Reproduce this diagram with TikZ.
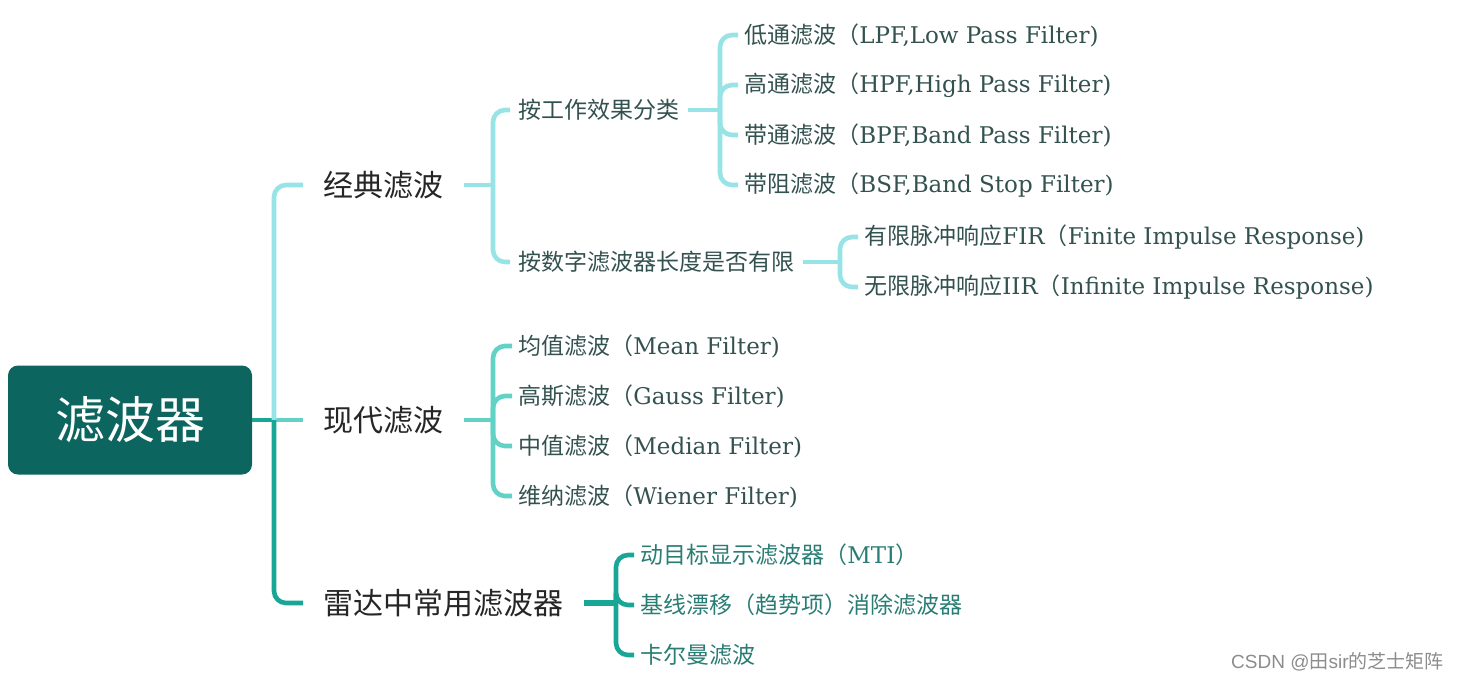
\documentclass[tikz,border=0pt]{standalone}
\usepackage{fontspec}
\setmainfont{Noto Sans CJK SC}
\newfontfamily\lat{DejaVu Serif}
\newfontfamily\wmark{Liberation Sans}
\usetikzlibrary{shapes,arrows}
\definecolor{rootfill}{HTML}{0D6560}
\definecolor{lineA}{HTML}{97E3E6}
\definecolor{lineB}{HTML}{62D2C7}
\definecolor{lineC}{HTML}{19A696}
\definecolor{leaftext}{HTML}{33524F}
\definecolor{radartext}{HTML}{2A7D74}
\tikzstyle{root} = [rectangle, fill=rootfill, text=white, rounded corners=5pt,
    minimum width=122pt, minimum height=54.5pt, font=\fontsize{25}{25}\selectfont]
\tikzstyle{topic} = [anchor=west, inner xsep=10pt, text=black!85,
    font=\fontsize{15}{15}\selectfont]
\tikzstyle{subtopic} = [anchor=west, inner xsep=4pt, text=leaftext,
    font=\fontsize{11.5}{12}\selectfont]
\tikzstyle{leaf} = [anchor=west, inner xsep=3pt, text=leaftext,
    font=\fontsize{11.5}{12}\selectfont]
\tikzstyle{branch} = [line width=2.3pt, rounded corners=6pt]

\begin{document}
\begin{tikzpicture}[x=0.5pt, y=-0.5pt]
    \useasboundingbox (0,0) rectangle (1460,680);
    % Place nodes
    % Root and topics
    \node [root] (flt) at (130,420) {滤波器};
    \node [topic] (jd) at (303,185) {经典滤波};
    \node [topic] (xd) at (303,420) {现代滤波};
    \node [topic] (ld) at (303,603) {雷达中常用滤波器};

    % Classic filters
    \node [subtopic] (gz) at (510,110) {按工作效果分类};
    \node [subtopic] (sz) at (510,262) {按数字滤波器长度是否有限};
    \node [leaf] (lpf) at (738,35) {低通滤波（\lat LPF,Low Pass Filter)};
    \node [leaf] (hpf) at (738,85) {高通滤波（\lat HPF,High Pass Filter)};
    \node [leaf] (bpf) at (738,135) {带通滤波（\lat BPF,Band Pass Filter)};
    \node [leaf] (bsf) at (738,185) {带阻滤波（\lat BSF,Band Stop Filter)};
    \node [leaf] (fir) at (858,237) {有限脉冲响应{\lat FIR}（\lat Finite Impulse Response)};
    \node [leaf] (iir) at (858,287) {无限脉冲响应{\lat IIR}（\lat Infinite Impulse Response)};

    % Modern filters
    \node [leaf] (mean) at (512,346) {均值滤波（\lat Mean Filter)};
    \node [leaf] (gauss) at (512,396) {高斯滤波（\lat Gauss Filter)};
    \node [leaf] (median) at (512,446) {中值滤波（\lat Median Filter)};
    \node [leaf] (wiener) at (512,496) {维纳滤波（\lat Wiener Filter)};

    % Radar filters
    \node [leaf, text=radartext] (mti) at (634,555) {动目标显示滤波器（{\lat MTI}）};
    \node [leaf, text=radartext] (trend) at (634,605) {基线漂移（趋势项）消除滤波器};
    \node [leaf, text=radartext] (kalman) at (634,655) {卡尔曼滤波};

    \node [anchor=east, text=black!45, inner sep=0pt, font=\fontsize{9.5}{10}\selectfont]
        (csdn) at (1444,662) {{\wmark CSDN @}田{\wmark sir}的芝士矩阵};

    % Hubs
    \coordinate (trunk) at (274,420);
    \coordinate (jdhub) at (493,185);
    \coordinate (gzhub) at (720,110);
    \coordinate (szhub) at (840,262);
    \coordinate (xdhub) at (493,420);
    \coordinate (ldhub) at (616,603);

    % Draw edges
    % Trunk
    \draw[branch, lineC] (flt.east) -- (trunk);
    \draw[branch, lineB] (trunk) -- (xd.west);
    \draw[branch, lineA] (trunk) |- (jd.west);
    \draw[branch, lineC] (trunk) |- (ld.west);
    % Classic
    \draw[branch, lineA] (jd.east) -- (jdhub);
    \draw[branch, lineA] (jdhub) |- (gz.west);
    \draw[branch, lineA] (jdhub) |- (sz.west);
    \draw[branch, lineA] (gz.east) -- (gzhub);
    \foreach \n in {lpf,hpf,bpf,bsf}
        \draw[branch, lineA] (gzhub) |- (\n.west);
    \draw[branch, lineA] (sz.east) -- (szhub);
    \foreach \n in {fir,iir}
        \draw[branch, lineA] (szhub) |- (\n.west);
    % Modern
    \draw[branch, lineB] (xd.east) -- (xdhub);
    \foreach \n in {mean,gauss,median,wiener}
        \draw[branch, lineB] (xdhub) |- (\n.west);
    % Radar
    \draw[branch, lineC, line width=3.2pt] (ld.east) -- (ldhub);
    \foreach \n in {mti,trend,kalman}
        \draw[branch, lineC] (ldhub) |- (\n.west);
\end{tikzpicture}
\end{document}
